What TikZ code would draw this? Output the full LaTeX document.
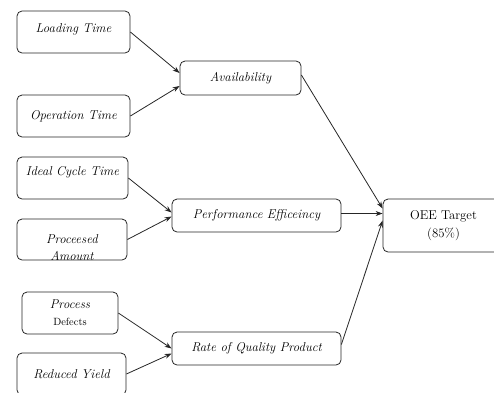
\documentclass[tikz,border=0pt]{standalone}
\usetikzlibrary{arrows.meta}

\begin{document}
\begin{tikzpicture}[x=1pt,y=-1pt,
	box/.style={draw=black!85,line width=0.8pt,rounded corners=5pt,align=center,inner sep=2pt,font=\fontsize{12.8}{17}\selectfont\itshape},
	flow/.style={draw=black!85,line width=0.8pt,-{Stealth[length=7pt,width=5pt]}}]
	\clip (0,0) rectangle (494,392);
	% inputs
	\node[box,minimum width=113pt,minimum height=42pt,text depth=8pt] (load) at (73.5,32) {Loading Time};
	\node[box,minimum width=113pt,minimum height=42pt] (oper) at (73.5,116) {Operation Time};
	\node[box,minimum width=111pt,minimum height=42pt,text depth=15pt] (ideal) at (72.5,178) {Ideal Cycle Time};
	\begin{scope}
		\clip (17.4,219.4) rectangle (126.6,259.6);
		\node[font=\fontsize{12.8}{17}\selectfont\itshape,align=center] (proctxt) at (72,248) {Proceesed\\Amount};
	\end{scope}
	\node[box,minimum width=110pt,minimum height=41pt] (proc) at (72,239.5) {};
	\node[box,minimum width=96pt,minimum height=42pt] (defect) at (70,313) {Process\\{\fontsize{10.5}{14}\selectfont\upshape Defects}};
	\node[box,minimum width=109pt,minimum height=42pt] (yield) at (71.5,374) {Reduced Yield};
	% factors
	\node[box,minimum width=121pt,minimum height=34pt] (avail) at (240.5,78) {Availability};
	\node[box,minimum width=169pt,minimum height=33pt] (perf) at (256.5,215.5) {Performance Efficeincy};
	\node[box,minimum width=169pt,minimum height=33pt] (rate) at (256.5,348.5) {Rate of Quality Product};
	% target
	\node[box,minimum width=121pt,minimum height=53pt,font=\fontsize{12.8}{18}\selectfont\upshape] (oee) at (443.5,225.5) {OEE Target\\(85\%)};
	% arrows
	\draw[flow] (load.east) -- ([yshift=5pt]avail.west);
	\draw[flow] (oper.east) -- ([yshift=-8pt]avail.west);
	\draw[flow] (ideal.east) -- ([yshift=3pt]perf.west);
	\draw[flow] (proc.east) -- ([yshift=-1pt]perf.west);
	\draw[flow] (defect.east) -- (rate.west);
	\draw[flow] (yield.east) -- ([yshift=-5pt]rate.west);
	\draw[flow] ([yshift=3pt]avail.east) -- ([yshift=17pt]oee.west);
	\draw[flow] ([yshift=2pt]perf.east) -- ([yshift=12pt]oee.west);
	\draw[flow] ([yshift=4pt]rate.east) -- ([yshift=5pt]oee.west);
\end{tikzpicture}
\end{document}
